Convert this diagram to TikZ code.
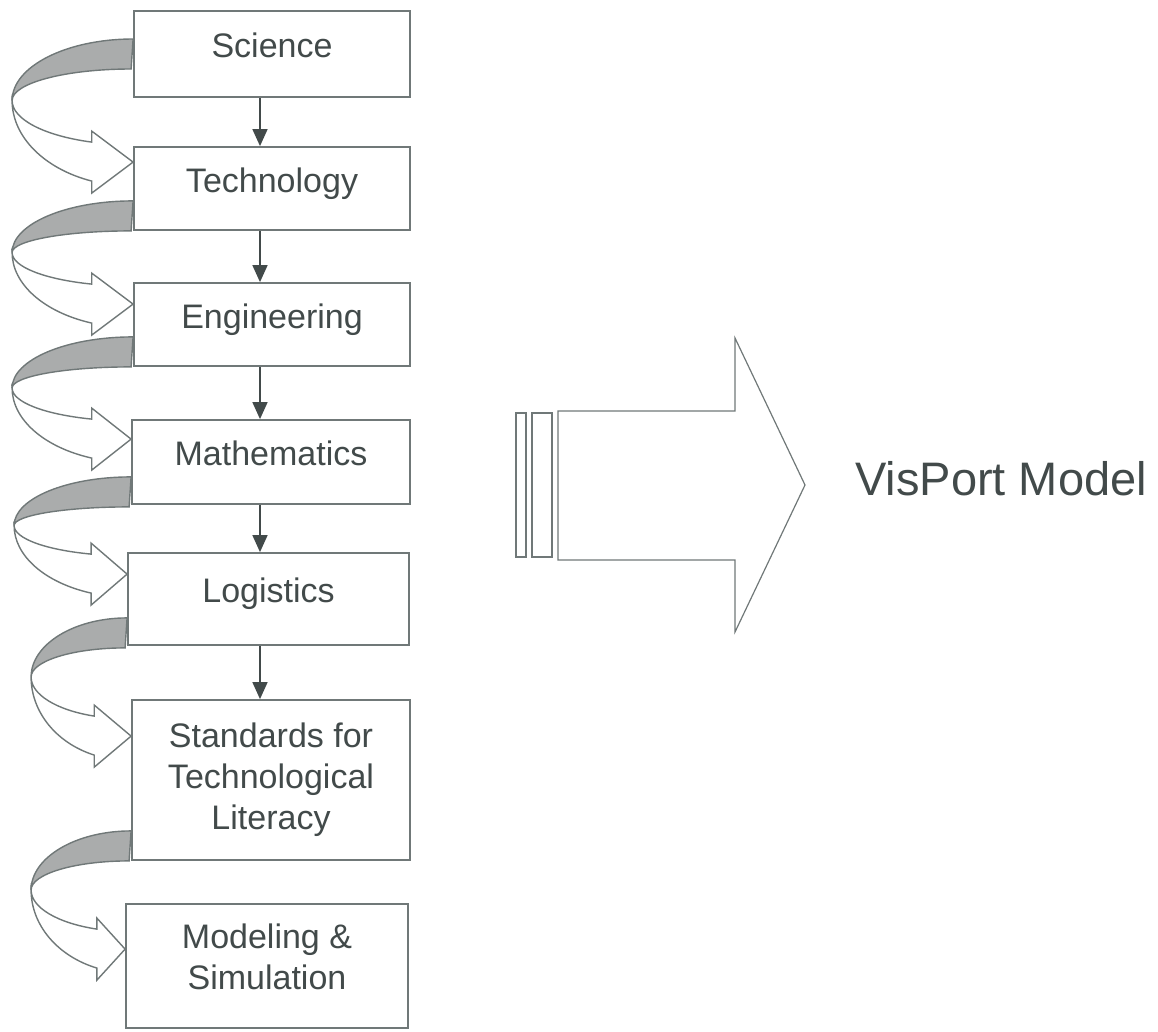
\documentclass[tikz,border=0pt]{standalone}
\usepackage{fontspec}
\setmainfont{Liberation Sans}
\usepackage{tikz}
\usetikzlibrary{calc,arrows.meta}

\definecolor{inkgray}{RGB}{66,74,74}
\definecolor{linegray}{RGB}{112,120,120}
\definecolor{bandgray}{RGB}{170,172,172}

\tikzset{
    stage/.style={draw=linegray, line width=1.8pt, fill=white, text=inkgray,
        align=center, inner sep=0pt, font=\fontsize{34pt}{41pt}\selectfont},
    oneline/.style={text height=17pt, text depth=10pt},
    flow/.style={draw=inkgray, line width=1.6pt, -{Triangle[length=17pt,width=15pt]}},
    backband/.style={draw=linegray, line width=1.4pt, fill=bandgray},
    frontband/.style={draw=linegray, line width=1.4pt, fill=white},
    blockline/.style={draw=linegray, line width=1.2pt}
}

% curved arrow: #1 top of band at the left of a box, #2 tip, #3 reach to the left
\newcommand{\bendarrow}[3]{%
    \filldraw[backband] let \p1=#1, \p2=#2, \n1={#3}, \n2={(\y1-\y2)/2} in
        (\x1,\y1) arc[start angle=90, end angle=180, x radius=\n1, y radius=\n2]
        arc[start angle=180, end angle=90, x radius=\n1-2pt, y radius=\n2-30pt] -- cycle;
    \filldraw[frontband] let \p1=#1, \p2=#2, \n1={#3}, \n2={(\y1-\y2)/2},
        \n3={(\n2+19pt)/0.94}, \n4={(\n2-20pt)/0.94}, \n5={\x1-0.342*\n1} in
        ({\x1-\n1},{\y1-\n2}) arc[start angle=180, end angle=250, x radius=\n1, y radius=\n3]
        -- ({\n5},{\y2-31pt}) -- (\x2,\y2) -- ({\n5},{\y2+31pt}) -- ({\n5},{\y2+20pt})
        arc[start angle=250, end angle=180, x radius=\n1, y radius=\n4] -- cycle;
}

\begin{document}
\begin{tikzpicture}[x=1pt,y=1pt]
    \useasboundingbox (0,0) rectangle (1158,-1031);

    % the stages, top to bottom
    \node[stage, oneline, minimum width=276pt, minimum height=86pt] (sci) at (272,-54) {Science};
    \node[stage, oneline, minimum width=276pt, minimum height=83pt] (tech) at (272,-188.5) {Technology};
    \node[stage, oneline, minimum width=276pt, minimum height=83pt] (eng) at (272,-324.5) {Engineering};
    \node[stage, oneline, minimum width=278pt, minimum height=84pt] (math) at (271,-462) {Mathematics};
    \node[stage, oneline, minimum width=281pt, minimum height=92pt] (log) at (268.5,-599) {Logistics};
    \node[stage, minimum width=278pt, minimum height=160pt] (std) at (271,-780) {Standards for\\Technological\\Literacy};
    \node[stage, text depth=18pt, minimum width=282pt, minimum height=124pt] (mod) at (267,-966) {Modeling \&\\Simulation};

    % straight arrows down the middle
    \coordinate (spine) at (260,0);
    \foreach \a/\b in {sci/tech,tech/eng,eng/math,math/log,log/std}
        \draw[flow] (\a.south -| spine) -- (\b.north -| spine);

    % curved arrows on the left
    \bendarrow{($(sci.west)+(0,15)$)}{($(tech.north west)+(0,-16)$)}{121pt}
    \bendarrow{($(tech.south west)+(0,30)$)}{($(eng.north west)+(0,-22)$)}{121pt}
    \bendarrow{($(eng.south west)+(0,30)$)}{($(math.north west)+(0,-20)$)}{121pt}
    \bendarrow{($(math.south west)+(0,28)$)}{($(log.north west)+(0,-22)$)}{117pt}
    \bendarrow{($(log.south west)+(0,28)$)}{($(std.north west)+(0,-37)$)}{96pt}
    \bendarrow{($(std.south west)+(0,30)$)}{($(mod.north west)+(0,-46)$)}{100pt}

    % striped block arrow
    \draw[blockline] (516,-413) rectangle (526,-557);
    \draw[blockline] (532,-413) rectangle (552,-557);
    \draw[blockline] (558,-411) -- (735,-411) -- (735,-338) -- (805,-485)
        -- (735,-632) -- (735,-560) -- (558,-560) -- cycle;

    \node[anchor=base west, inner sep=0pt, text=inkgray,
        font=\fontsize{47pt}{55pt}\selectfont] (vis) at (855,-495) {VisPort Model};
\end{tikzpicture}
\end{document}
